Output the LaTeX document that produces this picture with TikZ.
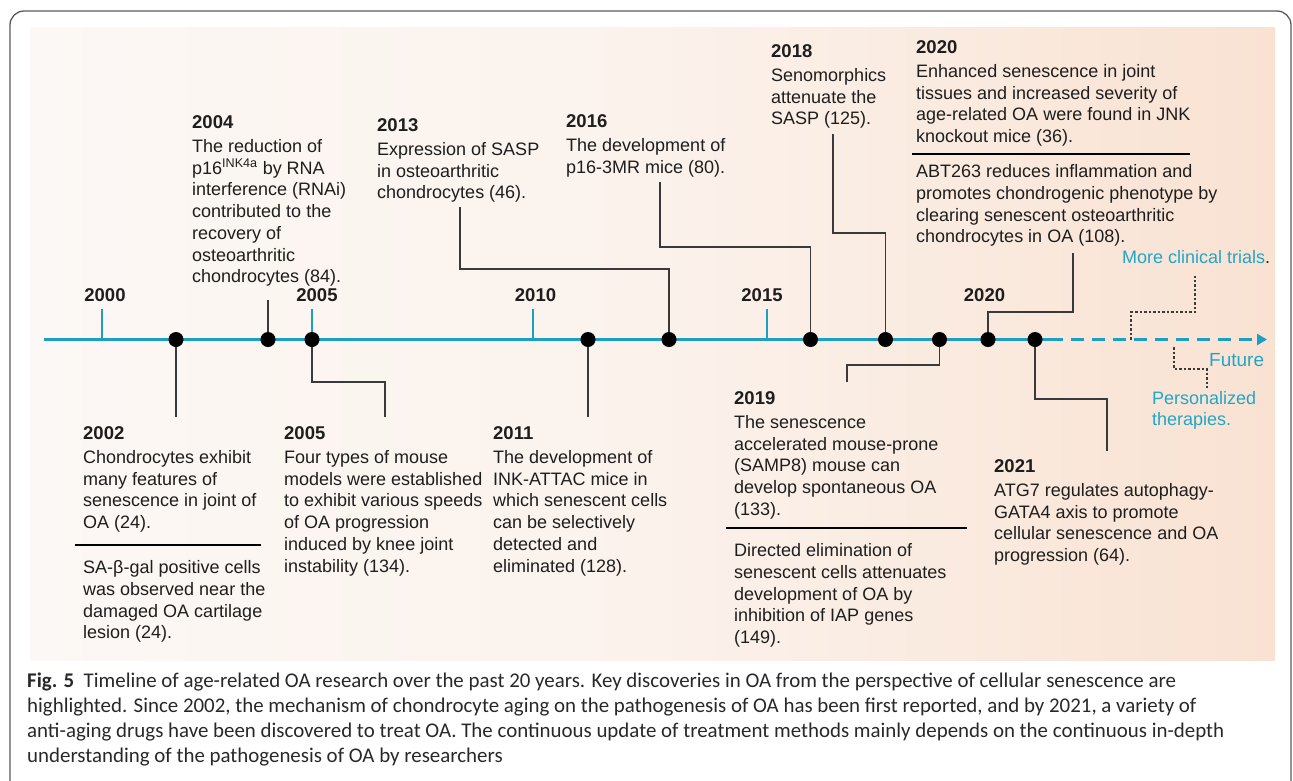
\documentclass[tikz,border=0pt]{standalone}
\usepackage{fontspec}
\setmainfont{Liberation Sans}
\newfontfamily\capfont{Carlito}
\usetikzlibrary{arrows.meta}
\definecolor{teal1}{HTML}{1B9FC2}
\definecolor{tealtxt}{HTML}{22A6C8}
\definecolor{connc}{HTML}{3A3A3A}
\definecolor{bgL}{HTML}{FCF8F5}
\definecolor{bgR}{HTML}{F9E2D2}
\definecolor{framec}{HTML}{5A5A5A}
\definecolor{txt}{HTML}{1E1E1E}
\begin{document}
\begin{tikzpicture}[x=1pt,y=-1pt,
  evt/.style={anchor=north west, inner sep=0pt, align=left, text=txt, font=\fontsize{18}{21.7}\selectfont},
  yr/.style={font=\bfseries\fontsize{18.5}{20}\selectfont, text=txt, inner sep=0pt},
  tickline/.style={draw=teal1, line width=2pt},
  connline/.style={draw=connc, line width=1.4pt},
  sepline/.style={draw=black, line width=1.6pt},
  evdot/.style={circle, fill=black, minimum size=15pt, inner sep=0pt},
  dotline/.style={draw=connc, line width=1.4pt, dash pattern=on 2.5pt off 2pt},
  futtext/.style={anchor=west, inner sep=0pt, text=tealtxt, font=\fontsize{18}{21.7}\selectfont, align=left}]

\useasboundingbox (0,0) rectangle (1293,780);
\clip (0,0) rectangle (1293,780);
\draw[framec, line width=1.3pt, rounded corners=14pt] (10,11) rectangle (1291,830);
\shade[left color=bgL, right color=bgR, middle color={rgb,255:red,251;green,242;blue,236}] (30,27) rectangle (1275,660);

% timeline
\coordinate (tlS) at (44,339.5);
\coordinate (tlM) at (1050,339.5);
\coordinate (tlE) at (1267,339.5);
\draw[teal1, line width=3pt] (tlS) -- (tlM);
\draw[teal1, line width=3pt, dash pattern=on 13pt off 8pt, -{Triangle[length=10pt,width=11pt]}] (tlM) -- (tlE);

% year ticks and labels
\foreach \yx/\lx/\nm in {102/105/2000, 312/317/2005, 533/535.5/2010, 767/762/2015}{
  \coordinate (kt\nm) at (\yx,309);
  \coordinate (kb\nm) at (\yx,339.5);
  \draw[tickline] (kt\nm) -- (kb\nm);
  \node[yr] (y\nm) at (\lx,295) {\nm};
}
\node[yr] (y2020) at (984.5,295) {2020};

% dots
\node[evdot] (d2002) at (176,339.5) {};
\node[evdot] (d2004) at (268,339.5) {};
\node[evdot] (d2005) at (312,339.5) {};
\node[evdot] (d2011) at (588,339.5) {};
\node[evdot] (d2013) at (669,339.5) {};
\node[evdot] (d2016) at (810.5,339.5) {};
\node[evdot] (d2018) at (885.5,339.5) {};
\node[evdot] (d2019) at (939.5,339.5) {};
\node[evdot] (d2020) at (988,339.5) {};
\node[evdot] (d2021) at (1035,339.5) {};

% top texts
\node[evt] (t2004) at (192,115.4) {\textbf{\fontsize{18.5}{21.7}\selectfont 2004}\\[2.3pt]The reduction of\\p16\textsuperscript{INK4a} by RNA\\interference (RNAi)\\contributed to the\\recovery of\\osteoarthritic\\chondrocytes (84).};
\node[evt] (t2013) at (377,118.4) {\textbf{\fontsize{18.5}{21.7}\selectfont 2013}\\[2.3pt]Expression of SASP\\in osteoarthritic\\chondrocytes (46).};
\node[evt] (t2016) at (566,114.4) {\textbf{\fontsize{18.5}{21.7}\selectfont 2016}\\[2.3pt]The development of\\p16-3MR mice (80).};
\node[evt] (t2018) at (771,44.4) {\textbf{\fontsize{18.5}{21.7}\selectfont 2018}\\[2.3pt]Senomorphics\\attenuate the\\SASP (125).};
\node[evt] (t2020) at (916,40.4) {\textbf{\fontsize{18.5}{21.7}\selectfont 2020}\\[2.3pt]Enhanced senescence in joint\\tissues and increased severity of\\age-related OA were found in JNK\\knockout mice (36).};
\coordinate (s2020a) at (912,154);
\coordinate (s2020b) at (1190,154);
\draw[sepline] (s2020a) -- (s2020b);
\node[evt] (t2020b) at (916,164.5) {ABT263 reduces inflammation and\\promotes chondrogenic phenotype by\\clearing senescent osteoarthritic\\chondrocytes in OA (108).};

% bottom texts
\node[evt] (b2002) at (83,426.4) {\textbf{\fontsize{18.5}{21.7}\selectfont 2002}\\[2.3pt]Chondrocytes exhibit\\many features of\\senescence in joint of\\OA (24).};
\coordinate (s2002a) at (75,545);
\coordinate (s2002b) at (261,545);
\draw[sepline] (s2002a) -- (s2002b);
\node[evt] (b2002b) at (83,560.5) {SA-β-gal positive cells\\was observed near the\\damaged OA cartilage\\lesion (24).};
\node[evt] (b2005) at (284,426.4) {\textbf{\fontsize{18.5}{21.7}\selectfont 2005}\\[2.3pt]Four types of mouse\\models were established\\to exhibit various speeds\\of OA progression\\induced by knee joint\\instability (134).};
\node[evt] (b2011) at (493,426.4) {\textbf{\fontsize{18.5}{21.7}\selectfont 2011}\\[2.3pt]The development of\\INK-ATTAC mice in\\which senescent cells\\can be selectively\\detected and\\eliminated (128).};
\node[evt] (b2019) at (734,391.4) {\textbf{\fontsize{18.5}{21.7}\selectfont 2019}\\[2.3pt]The senescence\\accelerated mouse-prone\\(SAMP8) mouse can\\develop spontaneous OA\\(133).};
\coordinate (s2019a) at (726,528);
\coordinate (s2019b) at (967,528);
\draw[sepline] (s2019a) -- (s2019b);
\node[evt] (b2019b) at (734,543.5) {Directed elimination of\\senescent cells attenuates\\development of OA by\\inhibition of IAP genes\\(149).};
\node[evt] (b2021) at (994,459.4) {\textbf{\fontsize{18.5}{21.7}\selectfont 2021}\\[2.3pt]ATG7 regulates autophagy-\\GATA4 axis to promote\\cellular senescence and OA\\progression (64).};

% connectors
\coordinate (c2004) at (268,300);
\draw[connline] (c2004) -- (d2004);
\coordinate (c2013) at (460,207);
\draw[connline] (c2013) |- (669,269) -- (d2013);
\coordinate (c2016) at (660,182);
\draw[connline] (c2016) |- (810.5,247) -- (d2016);
\coordinate (c2018) at (833,134);
\draw[connline] (c2018) |- (885.5,233) -- (d2018);
\coordinate (c2020) at (1073,253);
\draw[connline] (c2020) |- (988,312) -- (d2020);
\coordinate (c2002) at (176,417);
\draw[connline] (d2002) -- (c2002);
\coordinate (c2005) at (385,417);
\draw[connline] (d2005) |- (385,382) -- (c2005);
\coordinate (c2011) at (588,417);
\draw[connline] (d2011) -- (c2011);
\coordinate (c2019) at (847,382);
\draw[connline] (d2019) |- (847,365) -- (c2019);
\coordinate (c2021) at (1107,451);
\draw[connline] (d2021) |- (1107,399) -- (c2021);

% future
\node[futtext] (trials) at (1122,257) {More clinical trials\textcolor{txt}{.}};
\node[futtext, font=\fontsize{19}{21.7}\selectfont] (future) at (1209,360) {Future};
\node[futtext, anchor=north west] (pers) at (1152,391) {Personalized\\therapies.};
\coordinate (f1a) at (1131,339.5);
\coordinate (f1b) at (1195,276);
\draw[dotline] (f1a) |- (1195,312) -- (f1b);
\coordinate (f2a) at (1174,347);
\coordinate (f2b) at (1207,388);
\draw[dotline] (f2a) |- (1207,369) -- (f2b);

% caption
\node[anchor=north west, inner sep=0pt, align=left, text={rgb,255:red,40;green,40;blue,40}, font=\capfont\fontsize{20.9}{25}\selectfont] (cap) at (27,673) {\textbf{Fig. 5}\hspace{0.45em}Timeline of age-related OA research over the past 20 years. Key discoveries in OA from the perspective of cellular senescence are\\highlighted. Since 2002, the mechanism of chondrocyte aging on the pathogenesis of OA has been first reported, and by 2021, a variety of\\anti-aging drugs have been discovered to treat OA. The continuous update of treatment methods mainly depends on the continuous in-depth\\understanding of the pathogenesis of OA by researchers};
\end{tikzpicture}
\end{document}
